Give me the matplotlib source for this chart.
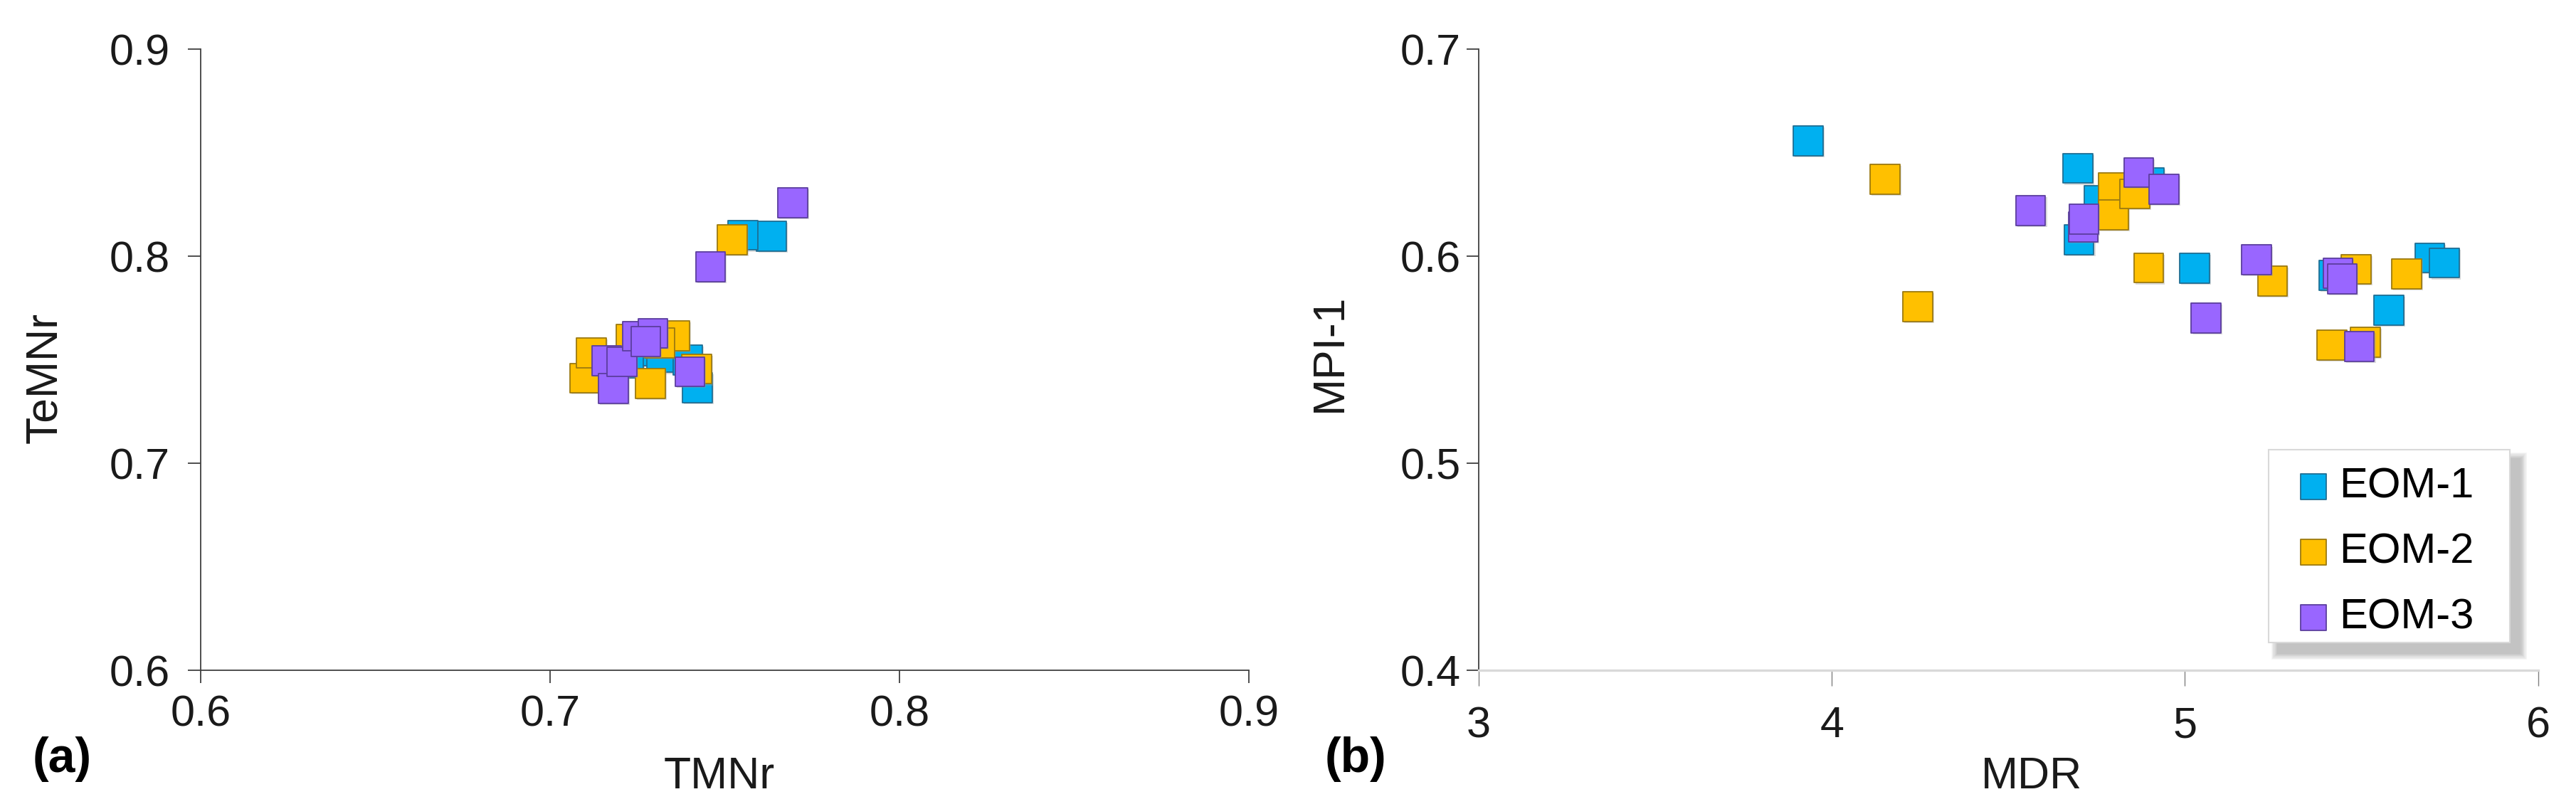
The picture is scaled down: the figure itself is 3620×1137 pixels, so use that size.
import matplotlib
matplotlib.use("Agg")
import matplotlib.pyplot as plt
from matplotlib import font_manager
import matplotlib.patheffects as pe
from matplotlib.patches import Rectangle

# ---------------- data ----------------
series = ["EOM-1", "EOM-2", "EOM-3"]

# panel (a): TMNr vs TeMNr
a_x_eom1 = [0.7634, 0.7552, 0.7285, 0.7320, 0.7394, 0.7224, 0.7422]
a_y_eom1 = [0.8097, 0.8101, 0.7543, 0.7510, 0.7498, 0.7485, 0.7365]
a_x_eom2 = [0.7522, 0.7100, 0.7118, 0.7231, 0.7356, 0.7313, 0.7287, 0.7420]
a_y_eom2 = [0.8080, 0.7411, 0.7533, 0.7600, 0.7615, 0.7580, 0.7384, 0.7455]
a_x_eom3 = [0.7695, 0.7459, 0.7162, 0.7181, 0.7206, 0.7251, 0.7294, 0.7274, 0.7400]
a_y_eom3 = [0.8258, 0.7948, 0.7496, 0.7361, 0.7490, 0.7614, 0.7627, 0.7588, 0.7442]

# panel (b): MDR vs MPI-1
b_x_eom1 = [3.933, 4.697, 4.700, 4.757, 4.898, 5.027, 5.422, 5.577, 5.693, 5.735]
b_y_eom1 = [0.6557, 0.6424, 0.6080, 0.6269, 0.6355, 0.5941, 0.5908, 0.5739, 0.5992, 0.5967]
b_x_eom2 = [4.151, 4.243, 4.797, 4.797, 4.858, 4.897, 5.248, 5.484, 5.416, 5.511, 5.628]
b_y_eom2 = [0.6371, 0.5757, 0.6330, 0.6200, 0.6301, 0.5943, 0.5879, 0.5937, 0.5570, 0.5585, 0.5914]
b_x_eom3 = [4.563, 4.712, 4.714, 4.869, 4.940, 5.060, 5.203, 5.433, 5.445, 5.494]
b_y_eom3 = [0.6220, 0.6142, 0.6179, 0.6404, 0.6323, 0.5702, 0.5982, 0.5917, 0.5889, 0.5563]

a_xticks = [0.6, 0.7, 0.8, 0.9]
a_yticks = [0.6, 0.7, 0.8, 0.9]
b_xticks = [3, 4, 5, 6]
b_yticks = [0.4, 0.5, 0.6, 0.7]

# ---------------- style ----------------
face = ["#00B0F0", "#FFC000", "#9966FF"]
edge = ["#1F6E94", "#9C7A10", "#5B3E9E"]

names = {f.name for f in font_manager.fontManager.ttflist}
REG = "Liberation Sans" if "Liberation Sans" in names else "DejaVu Sans"
plt.rcParams["font.family"] = [REG, "DejaVu Sans"]

TICK_FS = 44
LAB_FS = 45

fig = plt.figure(figsize=(36.2, 11.37), dpi=100)
axA = fig.add_axes([0.0779, 0.1715, 0.4069, 0.7678])
axB = fig.add_axes([0.5740, 0.1715, 0.4113, 0.7678])

shadow = [pe.SimplePatchShadow(offset=(1.5, -1.5), shadow_rgbFace="#999999", alpha=0.35), pe.Normal()]
S = 900

def draw(ax, xs, ys):
    for i, (x, y) in enumerate(zip(xs, ys)):
        sc = ax.scatter(x, y, s=S, marker="s", facecolor=face[i], edgecolor=edge[i],
                        linewidth=1.3, label=series[i], zorder=3 + 0.1 * i)
        sc.set_path_effects(shadow)

draw(axA, [a_x_eom1, a_x_eom2, a_x_eom3], [a_y_eom1, a_y_eom2, a_y_eom3])
draw(axB, [b_x_eom1, b_x_eom2, b_x_eom3], [b_y_eom1, b_y_eom2, b_y_eom3])

# ----- panel (a) -----
axA.set_xlim(0.6, 0.9)
axA.set_ylim(0.6, 0.9)
axA.set_xticks(a_xticks)
axA.set_yticks(a_yticks)
axA.set_xticklabels([f"{v:.1f}" for v in a_xticks])
axA.set_yticklabels([f"{v:.1f}" for v in a_yticks])
for s in ["top", "right"]:
    axA.spines[s].set_visible(False)
for s in ["left", "bottom"]:
    axA.spines[s].set_color("#404040")
    axA.spines[s].set_linewidth(1.3)
axA.tick_params(axis="both", direction="out", length=13, width=1.3, color="#404040",
                labelsize=TICK_FS, labelcolor="#1a1a1a")
axA.tick_params(axis="y", pad=18)
axA.tick_params(axis="x", pad=12)
axA.set_xlabel("TMNr", fontsize=LAB_FS, color="#1a1a1a")
axA.set_ylabel("TeMNr", fontsize=LAB_FS, color="#1a1a1a")
axA.xaxis.set_label_coords(0.495, -0.137)
axA.yaxis.set_label_coords(-0.129, 0.471)

# ----- panel (b) -----
axB.set_xlim(3, 6)
axB.set_ylim(0.4, 0.7)
axB.set_xticks(b_xticks)
axB.set_yticks(b_yticks)
axB.set_xticklabels([str(v) for v in b_xticks])
axB.set_yticklabels([f"{v:.1f}" for v in b_yticks])
for s in ["top", "right"]:
    axB.spines[s].set_visible(False)
axB.spines["left"].set_color("#404040")
axB.spines["left"].set_linewidth(1.3)
axB.spines["bottom"].set_color("#D9D9D9")
axB.spines["bottom"].set_linewidth(2.4)
axB.tick_params(axis="both", direction="out", labelsize=TICK_FS, labelcolor="#1a1a1a")
axB.tick_params(axis="y", length=12, width=1.3, color="#404040", pad=6)
axB.tick_params(axis="x", length=16, width=1.0, color="#808080", pad=20)
axB.set_xlabel("MDR", fontsize=LAB_FS, color="#1a1a1a")
axB.set_ylabel("MPI-1", fontsize=LAB_FS, color="#1a1a1a")
axB.xaxis.set_label_coords(0.522, -0.137)
axB.yaxis.set_label_coords(-0.121, 0.511)

# legend box (drawn as a patch with a soft shadow) + legend entries
px = 1.0 / 1489.0
py = 1.0 / 873.0
bx0, bx1 = 0.7455, 0.9731
by0, by1 = 0.0447, 0.3551
for k in range(8):
    g = 10 - k * 1.2
    axB.add_patch(Rectangle((bx0 + 14 * px - g * px, by0 - 14 * py - g * py),
                            (bx1 - bx0) + 2 * g * px, (by1 - by0) + 2 * g * py,
                            transform=axB.transAxes, facecolor="#808080",
                            edgecolor="none", alpha=0.07, zorder=3.8, clip_on=False))
axB.add_patch(Rectangle((bx0, by0), bx1 - bx0, by1 - by0, transform=axB.transAxes,
                        facecolor="white", edgecolor="#D9D9D9", linewidth=1.5,
                        zorder=3.9, clip_on=False))

leg = axB.legend(loc="upper left", bbox_to_anchor=(0.774, 0.327), fontsize=43,
                 markerscale=0.88, handlelength=0.7, handletextpad=0.25,
                 labelspacing=0.62, borderpad=0.0, borderaxespad=0.0, frameon=False)
leg.set_zorder(5)
for h in leg.legend_handles:
    h.set_path_effects([])

fig.text(0.024, 0.0616, "(a)", fontsize=49, fontweight="bold", ha="center", va="center")
fig.text(0.5262, 0.0616, "(b)", fontsize=49, fontweight="bold", ha="center", va="center")

fig.savefig("out.png", dpi=100, facecolor="white")
